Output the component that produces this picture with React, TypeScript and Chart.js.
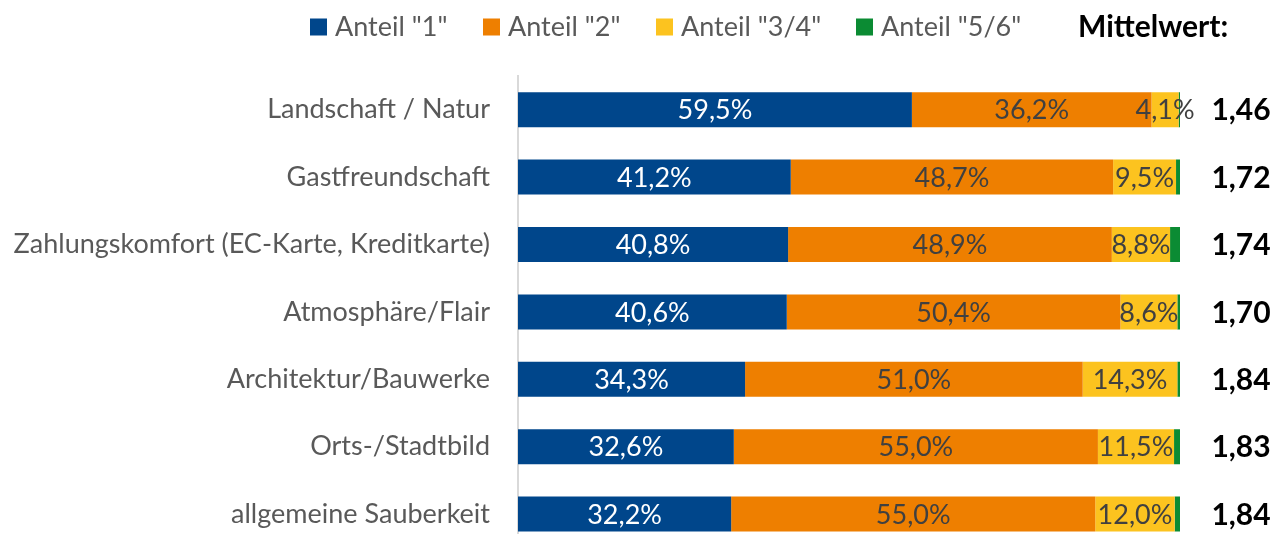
import React, { useEffect, useRef } from "react";
import { Chart, registerables } from "chart.js";

Chart.register(...registerables);

const categories = [
  "Landschaft / Natur",
  "Gastfreundschaft",
  "Zahlungskomfort (EC-Karte, Kreditkarte)",
  "Atmosphäre/Flair",
  "Architektur/Bauwerke",
  "Orts-/Stadtbild",
  "allgemeine Sauberkeit",
];
const anteil1 = [59.5, 41.2, 40.8, 40.6, 34.3, 32.6, 32.2];
const anteil2 = [36.2, 48.7, 48.9, 50.4, 51.0, 55.0, 55.0];
const anteil34 = [4.1, 9.5, 8.8, 8.6, 14.3, 11.5, 12.0];
const anteil56 = [0.2, 0.6, 1.5, 0.4, 0.4, 0.9, 0.8];
const mittelwert = [1.46, 1.72, 1.74, 1.70, 1.84, 1.83, 1.84];
const seriesLabels = ['Anteil "1"', 'Anteil "2"', 'Anteil "3/4"', 'Anteil "5/6"'];
const seriesColors = ["#00468B", "#EE7F00", "#FCC31F", "#0B8B33"];
const meanTitle = "Mittelwert:";

const FONT = "Lato, 'Noto Sans', sans-serif";
const legendX = [310, 483, 656, 856];

const fmt = (v: number, d: number) => v.toFixed(d).replace(".", ",");

const customPlugin = {
  id: "custom",
  afterDatasetsDraw(chart: any) {
    const ctx = chart.ctx;
    ctx.save();
    // data labels
    ctx.textAlign = "center";
    ctx.textBaseline = "middle";
    ctx.font = `27px ${FONT}`;
    chart.data.datasets.forEach((ds: any, di: number) => {
      if (di > 2) return;
      const meta = chart.getDatasetMeta(di);
      meta.data.forEach((el: any, i: number) => {
        const v = ds.data[i];
        const cx = (el.x + el.base) / 2;
        ctx.fillStyle = di === 0 ? "#FFFFFF" : "#404040";
        ctx.fillText(fmt(v, 1) + "%", cx, el.y + 1);
      });
    });
    // Mittelwert column
    const yScale = chart.scales.y;
    ctx.fillStyle = "#000000";
    ctx.font = `bold 30px ${FONT}`;
    mittelwert.forEach((m, i) => {
      ctx.fillText(fmt(m, 2), 1241, yScale.getPixelForValue(i) + 1);
    });
    // legend
    ctx.textAlign = "left";
    ctx.textBaseline = "alphabetic";
    ctx.font = `27px ${FONT}`;
    chart.data.datasets.forEach((ds: any, di: number) => {
      const x = legendX[di];
      ctx.fillStyle = ds.backgroundColor;
      ctx.fillRect(x, 18.5, 17, 17);
      ctx.fillStyle = "#595959";
      ctx.fillText(ds.label, x + 25, 36);
    });
    ctx.fillStyle = "#000000";
    ctx.font = `bold 30px ${FONT}`;
    ctx.fillText(meanTitle, 1078, 37);
    ctx.restore();
  },
};

export default function App() {
  const ref = useRef<HTMLCanvasElement>(null);
  useEffect(() => {
    if (!ref.current) return;
    const values = [anteil1, anteil2, anteil34, anteil56];
    const chart = new Chart(ref.current, {
      type: "bar",
      data: {
        labels: categories,
        datasets: values.map((d, i) => ({
          label: seriesLabels[i],
          data: d,
          backgroundColor: seriesColors[i],
          borderWidth: 0,
          barPercentage: 0.52,
          categoryPercentage: 1,
        })),
      },
      options: {
        indexAxis: "y",
        responsive: false,
        animation: false,
        layout: { padding: { top: 76, right: 105, bottom: 0, left: 0 } },
        plugins: {
          legend: { display: false },
          tooltip: { enabled: false },
        },
        scales: {
          x: { stacked: true, min: 0, max: 100, display: false },
          y: {
            stacked: true,
            grid: { display: false, drawTicks: false },
            border: { display: true, color: "#D9D9D9", width: 2 },
            ticks: {
              padding: 28,
              color: "#595959",
              font: { family: FONT, size: 27 },
            },
            afterFit: (scale: any) => {
              scale.width = 518;
            },
          },
        },
      },
      plugins: [customPlugin],
    });
    return () => chart.destroy();
  }, []);
  return (
    <div
      style={{
        position: "fixed",
        left: 0,
        top: 0,
        width: 1285,
        height: 534,
        overflow: "hidden",
        background: "#FFFFFF",
      }}
    >
      <canvas ref={ref} width={1285} height={592} style={{ display: "block" }} />
    </div>
  );
}
